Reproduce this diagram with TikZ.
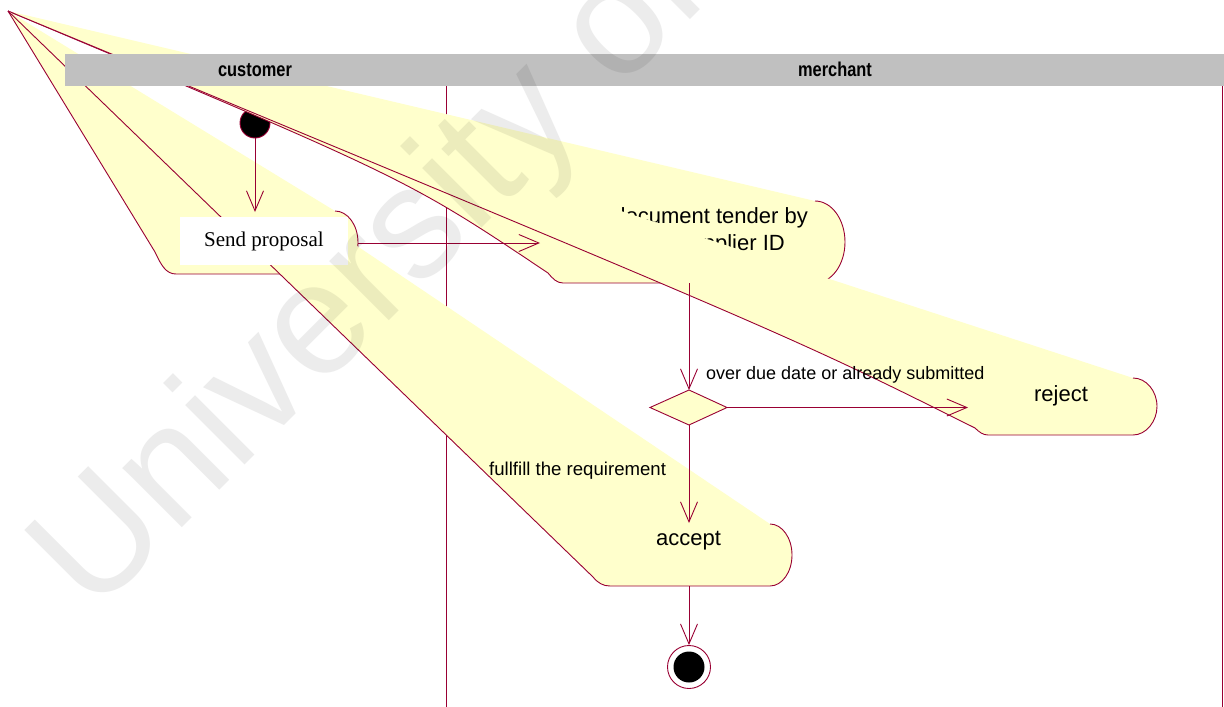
\documentclass[tikz,border=0pt]{standalone}
\usepackage{fontspec}
\setmainfont{Liberation Serif}
\newfontfamily\arialfont{Liberation Sans}
\newfontfamily\arialcond[FakeStretch=0.82]{Liberation Sans}
\usetikzlibrary{arrows.meta}
\definecolor{rosered}{RGB}{153,0,51}
\definecolor{roseyellow}{RGB}{255,255,204}
\definecolor{lanegray}{RGB}{192,192,192}
\definecolor{markgray}{RGB}{236,236,236}

\tikzset{
  outline/.style={draw=rosered, line width=0.9pt},
  actfill/.style={fill=roseyellow},
  flow/.style={outline, -{Straight Barb[length=20pt,width=17pt,line width=0.9pt]}},
  acttext/.style={font=\arialfont\fontsize{22}{27}\selectfont, inner sep=0pt},
  guard/.style={font=\arialfont\fontsize{18}{22}\selectfont, inner sep=0pt},
  lanetext/.style={font=\arialcond\bfseries\fontsize{20}{24}\selectfont, inner sep=0pt},
}

\begin{document}
\begin{tikzpicture}[x=1pt,y=-1pt]
\useasboundingbox (0,0) rectangle (1224,707);
\fill[white] (0,0) rectangle (1224,707);

% swimlane borders
\draw[outline] (446,86) -- (446,707);
\draw[outline] (1222,86) -- (1222,707);

\coordinate (apex) at (8,11);

% initial state
\node[circle, fill=black, draw=rosered, line width=0.9pt, minimum size=30pt, inner sep=0pt] (start) at (255,123) {};

% activity: Send proposal
\fill[actfill] (apex) -- (155,252) .. controls (161,265) and (166,274) .. (176,274) -- (335,274)
  .. controls (347.7,274) and (358,259.9) .. (358,242.5) .. controls (358,225.1) and (347.7,211) .. (335,211) -- cycle;
\draw[outline] (apex) -- (155,252) .. controls (161,265) and (166,274) .. (176,274) -- (335,274)
  .. controls (347.7,274) and (358,259.9) .. (358,242.5) .. controls (358,225.1) and (347.7,211) .. (335,211);

% activity: document tender by supplier ID
\fill[actfill] (apex) .. controls (407,178.6) .. (548,273) .. controls (553,279) and (557,283) .. (563,283) -- (815,283)
  .. controls (831.6,283) and (845,264.6) .. (845,242) .. controls (845,219.4) and (831.6,201) .. (815,201) -- cycle;
\draw[outline] (apex) .. controls (407,178.6) .. (548,273) .. controls (553,279) and (557,283) .. (563,283) -- (815,283)
  .. controls (831.6,283) and (845,264.6) .. (845,242) .. controls (845,219.4) and (831.6,201) .. (815,201);
\node[acttext, align=right, anchor=base east] (tender) at (808,250)
  {document tender by\\supplier ID\hspace*{23pt}};

% activity: reject
\fill[actfill] (apex) .. controls (790,335.6) .. (975,428) .. controls (979,432) and (983,435) .. (988,435) -- (1133,435)
  .. controls (1146.2,435) and (1157,421.2) .. (1157,406.5) .. controls (1157,390.8) and (1146.2,378) .. (1133,378) -- cycle;
\draw[outline] (apex) .. controls (790,335.6) .. (975,428) .. controls (979,432) and (983,435) .. (988,435) -- (1133,435)
  .. controls (1146.2,435) and (1157,421.2) .. (1157,406.5) .. controls (1157,390.8) and (1146.2,378) .. (1133,378);
\node[acttext, anchor=base] (reject) at (1061,401) {reject};

% activity: accept
\fill[actfill] (apex) -- (593,577) .. controls (598,583) and (603,586) .. (610,586) -- (770,586)
  .. controls (782.1,586) and (792,572.1) .. (792,555) .. controls (792,537.9) and (782.1,524) .. (770,524) -- cycle;
\draw[outline] (apex) -- (593,577) .. controls (598,583) and (603,586) .. (610,586) -- (770,586)
  .. controls (782.1,586) and (792,572.1) .. (792,555) .. controls (792,537.9) and (782.1,524) .. (770,524);
\node[acttext, anchor=base] (accept) at (688.5,545) {accept};

% label box of the first activity
\node[fill=white, minimum width=168pt, minimum height=48pt, inner sep=0pt,
      font=\fontsize{21}{24}\selectfont] (send) at (264,241) {Send proposal};

% decision and final state
\fill[actfill, outline] (689,390) -- (727,407.5) -- (689,425) -- (650,407.5) -- cycle;
\coordinate (decT) at (689,390);
\coordinate (decR) at (727,407.5);
\coordinate (decB) at (689,425);
\node[circle, fill=white, draw=rosered, line width=0.9pt, minimum size=43pt, inner sep=0pt] (final) at (689,667) {};
\fill[black] (final.center) circle (15.5);

% connection points on the activities
\coordinate (sendT) at (255,212);
\coordinate (sendR) at (358,243);
\coordinate (tenderL) at (540,243);
\coordinate (tenderB) at (689,283);
\coordinate (rejectL) at (968,407.5);
\coordinate (acceptT) at (689,523);
\coordinate (acceptB) at (689,586);

% transitions
\draw[flow] (start.south) -- (sendT);
\draw[flow] (sendR) -- (tenderL);
\draw[flow] (tenderB) -- (decT);
\draw[flow] (decR) -- (rejectL);
\draw[flow] (decB) -- (acceptT);
\draw[flow] (acceptB) -- (final.north);

\node[guard, anchor=base west] (g1) at (706,379) {over due date or already submitted};
\node[guard, anchor=base west, font=\arialfont\fontsize{18.6}{22}\selectfont] (g2) at (489,475) {fullfill the requirement};

% swimlane header
\fill[lanegray] (65,54) rectangle (1224,86);
\node[lanetext, anchor=base] (lane1) at (255,76) {customer};
\node[lanetext, anchor=base] (lane2) at (835,76) {merchant};

% watermark, multiplied onto everything below it
\begin{scope}[blend mode=multiply]
\node[rotate=45, anchor=base west, text=markgray, inner sep=0pt,
      font=\arialfont\fontsize{159}{159}\selectfont] (mark) at (93.5,616.5) {University of};
\end{scope}
\end{tikzpicture}
\end{document}
